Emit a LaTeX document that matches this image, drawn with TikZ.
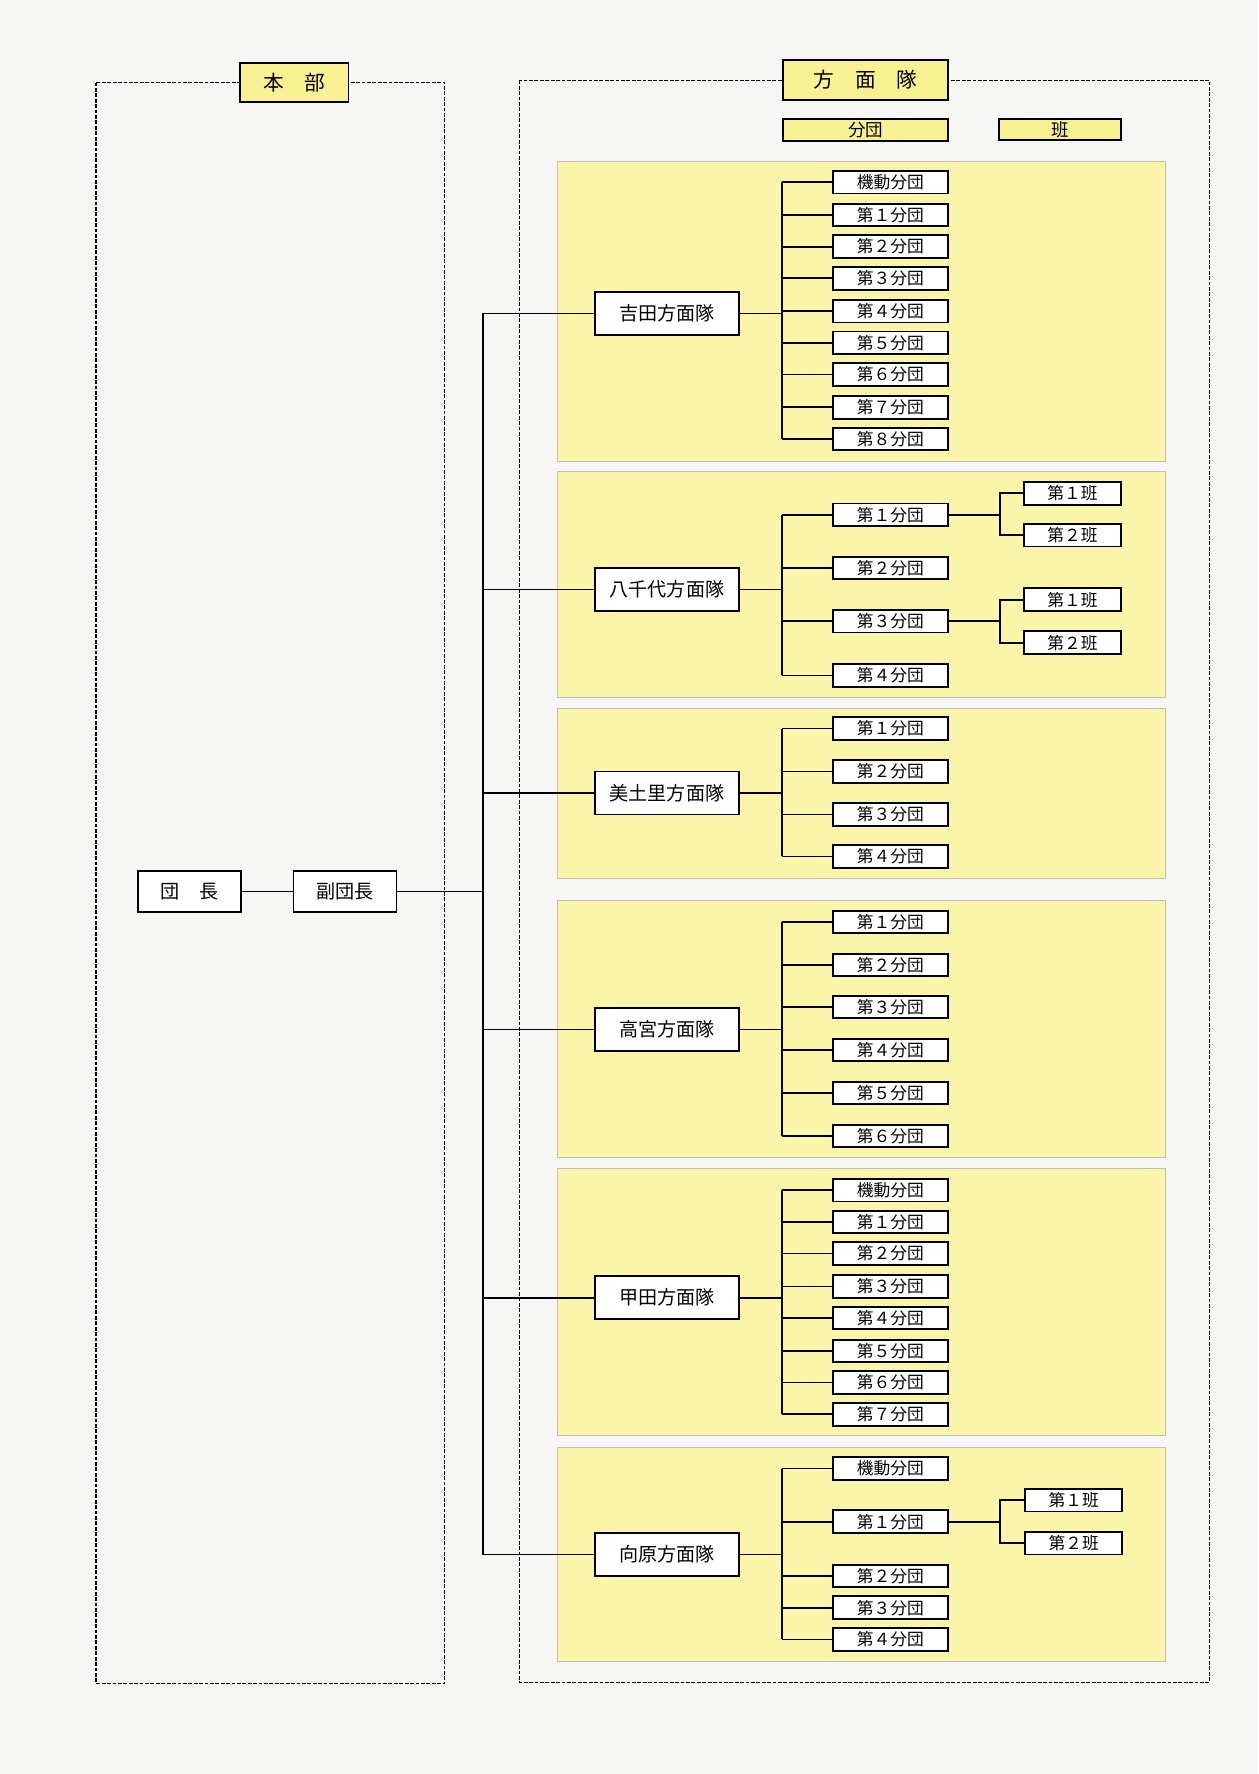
\documentclass[tikz,border=0pt]{standalone}
\usepackage{fontspec}
\setmainfont{Noto Sans CJK JP}
\usetikzlibrary{positioning, calc}

\definecolor{paper}{RGB}{246,246,244}
\definecolor{panelyellow}{RGB}{250,245,168}
\definecolor{tagyellow}{RGB}{249,240,148}

\begin{document}
\begin{tikzpicture}[x = 0.025cm, y = -0.025cm,
		frame/.style = {draw, line width = 0.9pt, dash pattern = on 2.4pt off 1pt},
		panel/.style = {fill = panelyellow, draw = black!25, line width = 0.4pt},
		tag/.style = {draw, line width = 1.2pt, fill = tagyellow, inner sep = 0pt, font = \fontsize{13}{15}\selectfont},
		rank/.style = {draw, line width = 1pt, fill = white, inner sep = 0pt, minimum width = 2.275cm, minimum height = 0.9cm, font = \fontsize{12}{14}\selectfont},
		corps/.style = {draw, line width = 1pt, fill = white, inner sep = 0pt, minimum width = 3.175cm, minimum height = 0.95cm, font = \fontsize{12}{14}\selectfont},
		unit/.style = {draw, line width = 1.2pt, fill = white, inner sep = 0pt, minimum width = 2.55cm, minimum height = 0.5cm, font = \fontsize{10.5}{12}\selectfont},
		squad/.style = {unit, minimum width = 2.15cm},
		link/.style = {line width = 1.1pt}]

			\fill [paper] (0,0) rectangle (1112,1568);
			\useasboundingbox (0,0) rectangle (1112,1568);

			% yellow panels
			\begin{scope}
				\path [panel] (493,143) rectangle (1030,408);
				\path [panel] (493,417) rectangle (1030,616);
				\path [panel] (493,626) rectangle (1030,776);
				\path [panel] (493,796) rectangle (1030,1023);
				\path [panel] (493,1033) rectangle (1030,1269);
				\path [panel] (493,1279) rectangle (1030,1468);
			\end{scope}

			% dashed frames and their tags
			\begin{scope}
				\path [frame] (85,73) rectangle (393,1488);
				\path [frame] (459,71) rectangle (1069,1487);
				\node [tag, minimum width = 2.4cm, minimum height = 0.85cm] (honbu) at (260,73) {本　部};
				\node [tag, minimum width = 3.65cm, minimum height = 0.875cm] (homentai) at (765,70.5) {方　面　隊};
				\node [tag, minimum width = 3.65cm, minimum height = 0.5cm, font = \fontsize{11}{13}\selectfont] (keyunit) at (765,115) {分団};
				\node [tag, minimum width = 2.7cm, minimum height = 0.475cm, font = \fontsize{11}{13}\selectfont] (keysquad) at (937,114.5) {班};
			\end{scope}

			% head office
			\node [rank] (danchou) at (167.5,788) {団　長};
			\node [rank] (fukudanchou) at (305,788) {副団長};
			\coordinate (trunk) at (427,788);

			% area corps
			\node [corps] (yoshida) at (589.5,277) {吉田方面隊};
			\node [corps] (yachiyo) at (589.5,521) {八千代方面隊};
			\node [corps] (midori) at (589.5,701) {美土里方面隊};
			\node [corps] (takamiya) at (589.5,910) {高宮方面隊};
			\node [corps] (koda) at (589.5,1147) {甲田方面隊};
			\node [corps] (mukaihara) at (589.5,1374) {向原方面隊};

			\draw [link] (danchou) -- (fukudanchou);
			\draw [link] (fukudanchou) -- (trunk);
			\draw [link] (trunk |- yoshida.west) -- (trunk |- mukaihara.west);
			\foreach \c in {yoshida, yachiyo, midori, takamiya, koda, mukaihara}
			{
				\draw [link] (trunk |- \c.west) -- (\c.west);
				\coordinate (\c B) at ($(\c.west) + (166,0)$);
			}

			% Yoshida
			\foreach \n/\y/\t in {K/161/機動分団, 1/190/第１分団, 2/218/第２分団, 3/246/第３分団, 4/275/第４分団, 5/303/第５分団, 6/331/第６分団, 7/360/第７分団, 8/388/第８分団}
			{
				\node [unit] (yoshida\n) at (787,\y) {\t};
				\draw [link] (yoshidaB |- yoshida\n.west) -- (yoshida\n.west);
			}
			\draw [link] (yoshida.east) -- (yoshidaB);
			\draw [link] (yoshidaB |- yoshidaK.west) -- (yoshidaB |- yoshida8.west);

			% Yachiyo
			\foreach \n/\y/\t in {1/455/第１分団, 2/502/第２分団, 3/549/第３分団, 4/597/第４分団}
			{
				\node [unit] (yachiyo\n) at (787,\y) {\t};
				\draw [link] (yachiyoB |- yachiyo\n.west) -- (yachiyo\n.west);
			}
			\draw [link] (yachiyo.east) -- (yachiyoB);
			\draw [link] (yachiyoB |- yachiyo1.west) -- (yachiyoB |- yachiyo4.west);

			\foreach \p/\ya/\yb in {1/436/473, 3/530/568}
			{
				\coordinate (yachiyo\p B) at ($(yachiyo\p.east) + (45,0)$);
				\node [squad] (yachiyo\p a) at (948,\ya) {第１班};
				\node [squad] (yachiyo\p b) at (948,\yb) {第２班};
				\draw [link] (yachiyo\p.east) -- (yachiyo\p B);
				\draw [link] (yachiyo\p a.west) -| (yachiyo\p B |- yachiyo\p b.west) -- (yachiyo\p b.west);
			}

			% Midori
			\foreach \n/\y/\t in {1/644/第１分団, 2/682/第２分団, 3/720/第３分団, 4/757/第４分団}
			{
				\node [unit] (midori\n) at (787,\y) {\t};
				\draw [link] (midoriB |- midori\n.west) -- (midori\n.west);
			}
			\draw [link] (midori.east) -- (midoriB);
			\draw [link] (midoriB |- midori1.west) -- (midoriB |- midori4.west);

			% Takamiya
			\foreach \n/\y/\t in {1/815/第１分団, 2/853/第２分団, 3/890/第３分団, 4/928/第４分団, 5/966/第５分団, 6/1004/第６分団}
			{
				\node [unit] (takamiya\n) at (787,\y) {\t};
				\draw [link] (takamiyaB |- takamiya\n.west) -- (takamiya\n.west);
			}
			\draw [link] (takamiya.east) -- (takamiyaB);
			\draw [link] (takamiyaB |- takamiya1.west) -- (takamiyaB |- takamiya6.west);

			% Koda
			\foreach \n/\y/\t in {K/1052/機動分団, 1/1080/第１分団, 2/1108/第２分団, 3/1137/第３分団, 4/1165/第４分団, 5/1194/第５分団, 6/1222/第６分団, 7/1250/第７分団}
			{
				\node [unit] (koda\n) at (787,\y) {\t};
				\draw [link] (kodaB |- koda\n.west) -- (koda\n.west);
			}
			\draw [link] (koda.east) -- (kodaB);
			\draw [link] (kodaB |- kodaK.west) -- (kodaB |- koda7.west);

			% Mukaihara
			\foreach \n/\y/\t in {K/1298/機動分団, 1/1345/第１分団, 2/1393/第２分団, 3/1421/第３分団, 4/1449/第４分団}
			{
				\node [unit] (mukaihara\n) at (787,\y) {\t};
				\draw [link] (mukaiharaB |- mukaihara\n.west) -- (mukaihara\n.west);
			}
			\draw [link] (mukaihara.east) -- (mukaiharaB);
			\draw [link] (mukaiharaB |- mukaiharaK.west) -- (mukaiharaB |- mukaihara4.west);

			\coordinate (mukaihara1B) at ($(mukaihara1.east) + (45,0)$);
			\node [squad] (mukaihara1a) at (949,1326) {第１班};
			\node [squad] (mukaihara1b) at (949,1364) {第２班};
			\draw [link] (mukaihara1.east) -- (mukaihara1B);
			\draw [link] (mukaihara1a.west) -| (mukaihara1B |- mukaihara1b.west) -- (mukaihara1b.west);
		\end{tikzpicture}
\end{document}
